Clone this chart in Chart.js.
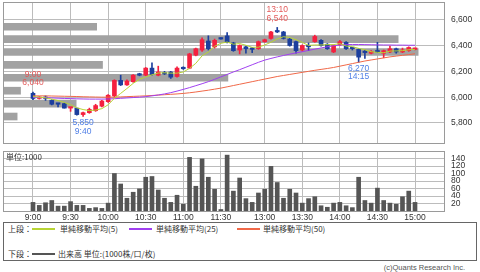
<!DOCTYPE html>
<html>
<head>
<meta charset="utf-8">
<script src="https://cdn.jsdelivr.net/npm/chart.js@4.4.1/dist/chart.umd.min.js"></script>
<style>
  body { margin: 0; width: 480px; height: 272px; background: #fff; position: relative; overflow: hidden; }
  #priceChart { position: absolute; left: 0; top: 0; }
  #volChart { position: absolute; left: 0; top: 148px; }
  #legend { position: absolute; left: 3px; top: 222px; width: 472px; height: 37px; border: 1px solid #666;
            font-family: "Noto Sans CJK JP", sans-serif; font-size: 8px; color: #333; }
  #legend span { position: absolute; line-height: 10px; white-space: nowrap; }
  #legend .ln { height: 2px; width: 23px; }
  #copy { position: absolute; right: 15px; top: 263px; font-family: "Liberation Sans", sans-serif; font-size: 7.5px; color: #555; }
</style>
</head>
<body>
<canvas id="priceChart" width="480" height="148"></canvas>
<canvas id="volChart" width="480" height="74"></canvas>
<div id="legend">
  <span style="left:4px;top:1px">上段：</span>
  <span class="ln" style="left:28px;top:5px;background:#b8d435"></span>
  <span style="left:56px;top:1px">単純移動平均(5)</span>
  <span class="ln" style="left:125px;top:5px;background:#a040f0"></span>
  <span style="left:152px;top:1px">単純移動平均(25)</span>
  <span class="ln" style="left:233px;top:5px;background:#f06848"></span>
  <span style="left:259px;top:1px">単純移動平均(50)</span>
  <span style="left:4px;top:26px">下段：</span>
  <span class="ln" style="left:28px;top:30px;background:#555"></span>
  <span style="left:54px;top:26px">出来高 単位:(1000株/口/枚)</span>
</div>
<div id="copy">(c)Quants Research Inc.</div>
<script>
// 5-minute bars, morning 9:00-11:30 then afternoon 12:30-15:00
const times = ["9:00","9:05","9:10","9:15","9:20","9:25","9:30","9:35","9:40","9:45","9:50","9:55",
  "10:00","10:05","10:10","10:15","10:20","10:25","10:30","10:35","10:40","10:45","10:50","10:55",
  "11:00","11:05","11:10","11:15","11:20","11:25","11:30",
  "12:30","12:35","12:40","12:45","12:50","12:55","13:00","13:05","13:10","13:15","13:20","13:25",
  "13:30","13:35","13:40","13:45","13:50","13:55","14:00","14:05","14:10","14:15","14:20","14:25",
  "14:30","14:35","14:40","14:45","14:50","14:55","15:00"];
const tickLabels = ["9:00","9:30","10:00","10:30","11:00","11:30","13:00","13:30","14:00","14:30","15:00"];

const open  = [6030,5990,5995,5975,5950,5950,5915,5915,5865,5880,5895,5930,5965,6010,6130,6095,6120,6175,6170,6225,6170,6190,6195,6160,6230,6225,6325,6365,6435,6390,6455,
               6475,6420,6365,6390,6375,6375,6430,6455,6515,6505,6450,6430,6365,6400,6430,6440,6410,6350,6405,6425,6380,6370,6350,6340,6360,6340,6350,6375,6350,6360,6370];
const high  = [6040,6005,6010,5980,5950,5955,5920,5915,5885,5915,5945,5975,6020,6135,6170,6135,6175,6185,6230,6265,6240,6200,6200,6235,6235,6340,6380,6460,6475,6450,6460,
               6500,6425,6405,6395,6385,6435,6450,6510,6540,6510,6455,6435,6405,6420,6480,6445,6415,6405,6440,6430,6385,6375,6365,6360,6425,6365,6395,6380,6380,6390,6380];
const low   = [5980,5985,5975,5940,5925,5915,5890,5860,5850,5875,5890,5925,5960,6000,6090,6090,6115,6165,6165,6170,6165,6175,6145,6155,6215,6220,6320,6355,6365,6380,6450,
               6420,6355,6335,6340,6345,6370,6425,6450,6500,6450,6395,6340,6355,6360,6425,6395,6370,6345,6400,6370,6365,6270,6300,6335,6345,6305,6345,6340,6345,6355,6365];
const close = [5990,6000,5990,5945,5945,5915,5915,5865,5880,5905,5935,5970,6015,6130,6095,6125,6170,6170,6225,6175,6195,6180,6155,6225,6220,6335,6375,6445,6375,6440,6450,
               6425,6360,6400,6375,6370,6430,6445,6505,6505,6455,6400,6360,6400,6390,6470,6400,6375,6400,6430,6375,6375,6310,6345,6355,6350,6360,6375,6350,6365,6385,6375];
const volume = [23,15,22,28,13,13,25,15,15,7,9,7,21,100,72,34,50,59,90,92,56,34,23,42,18,143,66,139,90,58,4,
                149,53,88,33,23,48,58,119,76,34,58,48,21,33,38,14,10,21,23,14,9,90,28,21,61,28,21,18,38,53,23];

const ma5  = [6005,6000,5995,5985,5974,5959,5942,5917,5904,5896,5900,5911,5941,5991,6029,6067,6107,6138,6157,6173,6187,6189,6186,6186,6195,6223,6262,6320,6350,6394,6417,
              6427,6410,6415,6402,6386,6387,6404,6425,6451,6468,6462,6445,6424,6401,6404,6404,6407,6407,6415,6396,6391,6378,6367,6352,6347,6344,6357,6358,6360,6367,6370];
const ma25 = [5998,5997,5996,5994,5992,5990,5989,5987,5986,5985,5985,5985,5986,5988,5991,5994,5997,6000,6004,6010,6017,6025,6035,6047,6060,6074,6089,6104,6120,6138,6157,
              6176,6195,6213,6232,6251,6270,6287,6300,6312,6323,6333,6343,6352,6362,6372,6381,6390,6398,6404,6407,6408,6408,6407,6406,6405,6404,6404,6403,6403,6402,6402];
const ma50 = [6010,6010,6010,6009,6008,6007,6006,6005,6003,6002,6001,6000,6000,6001,6002,6004,6006,6008,6010,6013,6016,6019,6022,6025,6029,6034,6040,6047,6054,6062,6070,
              6080,6090,6100,6110,6120,6130,6140,6150,6160,6168,6176,6184,6192,6200,6208,6215,6222,6230,6240,6250,6260,6270,6280,6288,6296,6304,6312,6318,6324,6330,6336];

// volume at price (1000 shares) per 100-yen band
const vapPrice  = [6545,6450,6350,6250,6150,6050,5950,5850];
const vapVolume = [192,810,851,204,461,36,150,29];

// high / low markers
const markTime  = ["9:00","9:40","13:10","14:15"];
const markPrice = [6040,5850,6540,6270];
const markKind  = ["high","low","high","low"];

const priceTicks = [5800,6000,6200,6400,6600];
const volTicks = [20,40,60,80,100,120,140];

const idx = times.map((t, i) => i);
const tickIdx = tickLabels.map(t => times.indexOf(t));
const candleColor = idx.map(i => close[i] >= open[i] ? "#f5203f" : "#1c3f9e");
const xMin = -4.79, xMax = 65.79;
const gridColor = "#bcbcbc";

Chart.defaults.font.family = '"Liberation Sans", sans-serif';
Chart.defaults.font.size = 8.5;
Chart.defaults.color = "#333";

const framePlugin = {
  id: "frame",
  afterDraw(chart) {
    const a = chart.chartArea, ctx = chart.ctx;
    ctx.save();
    ctx.strokeStyle = "#9a9a9a";
    ctx.lineWidth = 1;
    ctx.strokeRect(Math.round(a.left) + 0.5, Math.round(a.top) + 0.5, Math.round(a.right - a.left) - 1, Math.round(a.bottom - a.top));
    ctx.restore();
  }
};

const markPlugin = {
  id: "marks",
  afterDatasetsDraw(chart) {
    const ctx = chart.ctx, xs = chart.scales.x, ys = chart.scales.y;
    ctx.save();
    ctx.font = '8.5px "Liberation Sans", sans-serif';
    ctx.textAlign = "center";
    markTime.forEach((t, k) => {
      const x = xs.getPixelForValue(times.indexOf(t));
      const y = ys.getPixelForValue(markPrice[k]);
      const p = markPrice[k].toLocaleString("en-US");
      if (markKind[k] === "high") {
        ctx.fillStyle = "#e35a5a";
        ctx.textBaseline = "bottom";
        ctx.fillText(p, x, y - 5);
        ctx.fillText(t, x, y - 13.5);
      } else {
        ctx.fillStyle = "#4f7fe6";
        ctx.textBaseline = "top";
        ctx.fillText(p, x, y + 2);
        ctx.fillText(t, x, y + 10.5);
      }
    });
    ctx.restore();
  }
};

const unitPlugin = {
  id: "unit",
  afterDraw(chart) {
    const a = chart.chartArea, ctx = chart.ctx;
    ctx.save();
    ctx.font = '8px "Noto Sans CJK JP", sans-serif';
    ctx.fillStyle = "#333";
    ctx.textBaseline = "middle";
    ctx.fillText("単位:1000", a.left + 3, a.top + 6);
    ctx.restore();
  }
};

// keep the plot area where the layout padding puts it
const rightAxisFit = s => { s.width = 35; s.paddingTop = 0; s.paddingBottom = 0; };

new Chart("priceChart", {
  type: "bar",
  data: {
    datasets: [
      {
        type: "line", data: idx.map(i => ({x: i, y: ma5[i]})),
        borderColor: "#b8d435", borderWidth: 1, pointRadius: 0, order: 1
      },
      {
        type: "line", data: idx.map(i => ({x: i, y: ma25[i]})),
        borderColor: "#a040f0", borderWidth: 1, pointRadius: 0, order: 2
      },
      {
        type: "line", data: idx.map(i => ({x: i, y: ma50[i]})),
        borderColor: "#f06848", borderWidth: 1, pointRadius: 0, order: 3
      },
      {
        data: idx.map(i => ({x: i, y: [open[i], close[i]]})),
        backgroundColor: candleColor, barThickness: 4, minBarLength: 1.5, grouped: false, order: 4
      },
      {
        data: idx.map(i => ({x: i, y: [low[i], high[i]]})),
        backgroundColor: candleColor, barThickness: 1, grouped: false, order: 5
      },
      {
        indexAxis: "y", xAxisID: "xv", yAxisID: "y",
        data: vapPrice.map((p, k) => ({x: vapVolume[k], y: p})),
        backgroundColor: "#a2a2a2", barThickness: 7, grouped: false, order: 10
      }
    ]
  },
  options: {
    responsive: false,
    animation: false,
    events: [],
    layout: { padding: { left: 3, top: 2, right: 0, bottom: 5 } },
    plugins: { legend: { display: false }, tooltip: { enabled: false } },
    scales: {
      x: {
        type: "linear", min: xMin, max: xMax, offset: false, bounds: "data",
        ticks: { display: false },
        grid: { color: gridColor, drawTicks: false, offset: false },
        border: { display: false },
        afterBuildTicks: s => { s.ticks = tickIdx.map(v => ({value: v})); },
        afterFit: s => { s.height = 0; s.paddingLeft = 0; s.paddingRight = 0; }
      },
      xv: { type: "linear", axis: "x", display: false, min: 0, max: 906, offset: false, grid: { offset: false } },
      y: {
        type: "linear", position: "right", min: 5645, max: 6737, beginAtZero: false, bounds: "data", offset: false,
        grid: { color: gridColor, drawTicks: false, offset: false },
        border: { display: false },
        ticks: { padding: 6, autoSkip: false, callback: v => v.toLocaleString("en-US") },
        afterBuildTicks: s => { s.ticks = priceTicks.map(v => ({value: v})); },
        afterFit: rightAxisFit
      }
    }
  },
  plugins: [framePlugin, markPlugin]
});

new Chart("volChart", {
  type: "bar",
  data: {
    datasets: [
      {
        data: idx.map(i => ({x: i, y: volume[i]})),
        backgroundColor: "#555555", barThickness: 4, grouped: false
      }
    ]
  },
  options: {
    responsive: false,
    animation: false,
    events: [],
    layout: { padding: { left: 3, top: 3, right: 0, bottom: 0 } },
    plugins: { legend: { display: false }, tooltip: { enabled: false } },
    scales: {
      x: {
        type: "linear", min: xMin, max: xMax, offset: false, bounds: "data",
        grid: { color: gridColor, drawTicks: false, offset: false },
        border: { display: false },
        ticks: { padding: 2, autoSkip: false, maxRotation: 0, callback: v => times[v] },
        afterBuildTicks: s => { s.ticks = tickIdx.map(v => ({value: v})); },
        afterFit: s => { s.height = 11; s.paddingLeft = 0; s.paddingRight = 0; }
      },
      y: {
        type: "linear", position: "right", min: 0, max: 160, beginAtZero: true, bounds: "data", offset: false,
        grid: { color: gridColor, drawTicks: false },
        border: { display: false },
        ticks: { padding: 6, autoSkip: false, callback: v => String(v) },
        afterBuildTicks: s => { s.ticks = volTicks.map(v => ({value: v})); },
        afterFit: rightAxisFit
      }
    }
  },
  plugins: [framePlugin, unitPlugin]
});
</script>
</body>
</html>
